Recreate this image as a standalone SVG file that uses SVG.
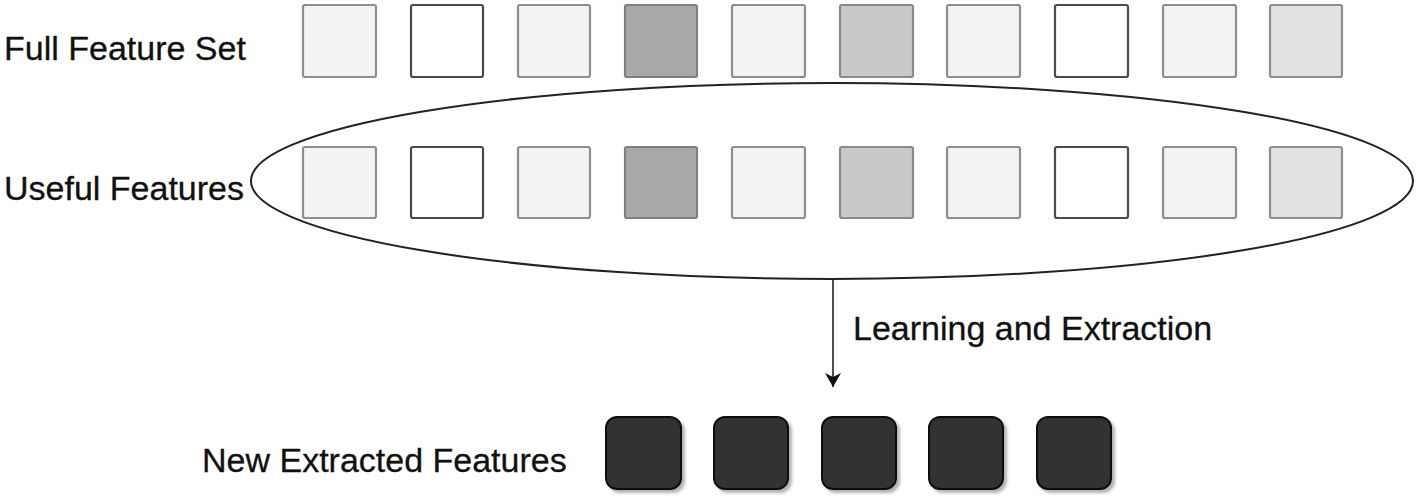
<svg xmlns="http://www.w3.org/2000/svg" width="1416" height="501" viewBox="0 0 1416 501">
<defs>
<style>
.lbl{font-family:"Liberation Sans",Arial,sans-serif;font-size:34px;fill:#111;stroke:#111;stroke-width:0.3}
.sq{stroke:#8e8e8e;stroke-width:2.2}
.light{fill:#f3f3f3}
.white{fill:#ffffff;stroke:#4a4a4a}
.dark1{fill:#a9a9a9;stroke:#7f7f7f}
.mid{fill:#c9c9c9;stroke:#8a8a8a}
.pale{fill:#e2e2e2}
.nf{fill:#333333;stroke:#111;stroke-width:2}
.edge{fill:none;stroke:#222;stroke-width:1.6}
</style>
<marker id="ah" viewBox="0 0 14 16" refX="14" refY="8" markerWidth="14" markerHeight="16" markerUnits="userSpaceOnUse" orient="auto">
<path d="M0,0 L14,8 L0,16 L4,8 Z" fill="#111"/>
</marker>
<filter id="sh" x="-20%" y="-20%" width="150%" height="150%">
<feDropShadow dx="3" dy="3" stdDeviation="1.5" flood-color="#000" flood-opacity="0.3"/>
</filter>
</defs>
<g id="label-full"><text class="lbl" x="4" y="60">Full Feature Set</text></g>
<g id="label-useful"><text class="lbl" x="4" y="200">Useful Features</text></g>
<g id="label-new"><text class="lbl" x="202" y="472">New Extracted Features</text></g>
<g id="full-set">
<rect class="sq light" x="303" y="5" width="73" height="72" rx="2"/>
<rect class="sq white" x="411" y="5" width="72" height="72" rx="2"/>
<rect class="sq light" x="518" y="5" width="72" height="72" rx="2"/>
<rect class="sq dark1" x="625" y="5" width="72" height="72" rx="2"/>
<rect class="sq light" x="732" y="5" width="73" height="72" rx="2"/>
<rect class="sq mid" x="840" y="5" width="73" height="72" rx="2"/>
<rect class="sq light" x="947" y="5" width="73" height="72" rx="2"/>
<rect class="sq white" x="1055" y="5" width="73" height="72" rx="2"/>
<rect class="sq light" x="1163" y="5" width="73" height="72" rx="2"/>
<rect class="sq pale" x="1270" y="5" width="72" height="72" rx="2"/>
</g>
<g id="useful-set">
<ellipse cx="832" cy="181" rx="581" ry="98" fill="none" stroke="#222" stroke-width="2"/>
<rect class="sq light" x="303" y="147" width="73" height="71" rx="2"/>
<rect class="sq white" x="411" y="147" width="72" height="71" rx="2"/>
<rect class="sq light" x="518" y="147" width="72" height="71" rx="2"/>
<rect class="sq dark1" x="625" y="147" width="72" height="71" rx="2"/>
<rect class="sq light" x="732" y="147" width="73" height="71" rx="2"/>
<rect class="sq mid" x="840" y="147" width="73" height="71" rx="2"/>
<rect class="sq light" x="947" y="147" width="73" height="71" rx="2"/>
<rect class="sq white" x="1055" y="147" width="73" height="71" rx="2"/>
<rect class="sq light" x="1163" y="147" width="73" height="71" rx="2"/>
<rect class="sq pale" x="1270" y="147" width="72" height="71" rx="2"/>
</g>
<g id="connectors">
<line class="edge" x1="833" y1="279" x2="833" y2="387" marker-end="url(#ah)"/>
<text class="lbl" x="853" y="340">Learning and Extraction</text>
</g>
<g id="new-features" filter="url(#sh)">
<rect class="nf" x="606" y="417" width="75" height="72" rx="11"/>
<rect class="nf" x="714" y="417" width="74" height="72" rx="11"/>
<rect class="nf" x="822" y="417" width="74" height="72" rx="11"/>
<rect class="nf" x="929" y="417" width="74" height="72" rx="11"/>
<rect class="nf" x="1037" y="417" width="74" height="72" rx="11"/>
</g>
</svg>
